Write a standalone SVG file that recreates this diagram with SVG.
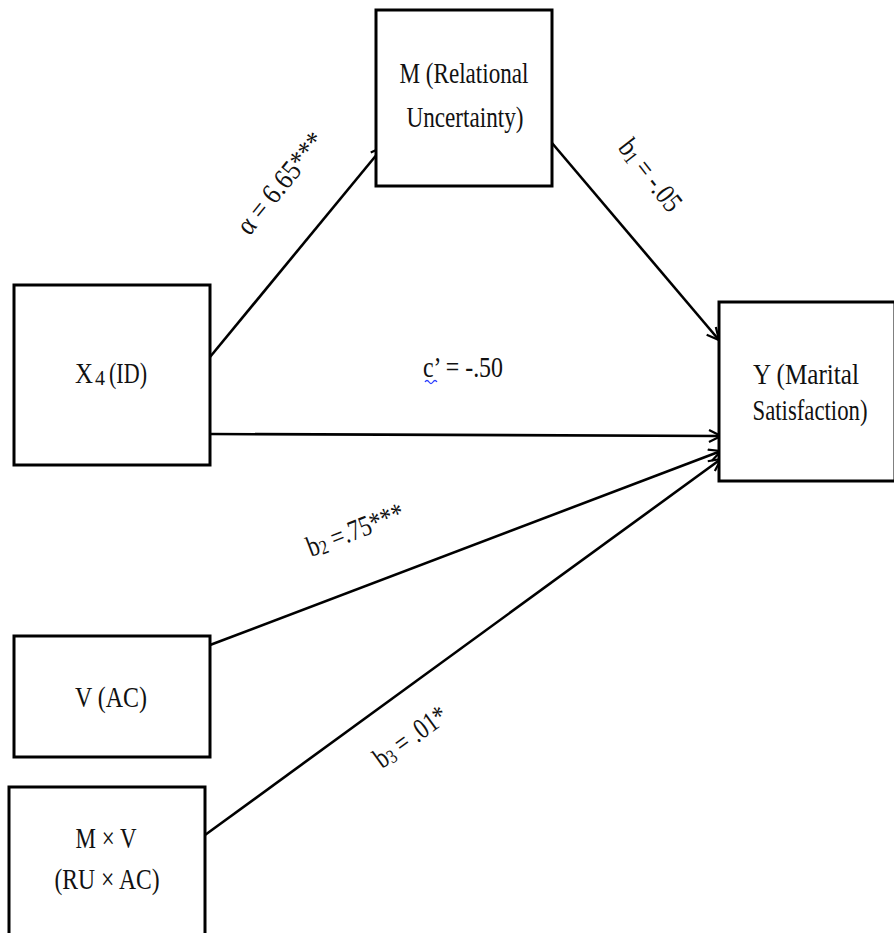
<svg xmlns="http://www.w3.org/2000/svg" width="894" height="933" viewBox="0 0 894 933">
<style>
.box{fill:#fff;stroke:#000;stroke-width:3}
.t{font-family:"Liberation Serif","Times New Roman",serif;font-size:29px;fill:#111}
.c{text-anchor:middle}
.edge{stroke:#000;stroke-width:2.6;fill:none;marker-end:url(#arr)}
</style>
<defs>
<marker id="arr" viewBox="0 0 14 14" refX="13" refY="7" markerWidth="14" markerHeight="14" markerUnits="userSpaceOnUse" orient="auto">
<path d="M1,1 L13,7 L1,13" fill="none" stroke="#000" stroke-width="2.2"/>
</marker>
</defs>
<rect width="894" height="933" fill="#fff"/>
<g id="connectors">
<line class="edge" x1="210" y1="357" x2="383" y2="147"/>
<line class="edge" x1="552" y1="143" x2="719" y2="340"/>
<line class="edge" x1="210" y1="434" x2="721" y2="436"/>
<line class="edge" x1="210" y1="645" x2="721" y2="451"/>
<line class="edge" x1="205" y1="835" x2="721" y2="459"/>
</g>
<g id="node-M">
<rect class="box" x="376" y="10" width="176" height="176"/>
<text class="t c" x="464" y="83" textLength="129" lengthAdjust="spacingAndGlyphs">M (Relational</text>
<text class="t c" x="465" y="127" textLength="117" lengthAdjust="spacingAndGlyphs">Uncertainty)</text>
</g>
<g id="node-X4">
<rect class="box" x="14" y="285" width="196" height="180"/>
<text class="t" x="75" y="383" textLength="18" lengthAdjust="spacingAndGlyphs">X</text>
<text class="t" x="95" y="385" style="font-size:20px">4</text>
<text class="t" x="109" y="383" textLength="38" lengthAdjust="spacingAndGlyphs">(ID)</text>
</g>
<g id="node-Y">
<rect class="box" x="719" y="302" width="176" height="179"/>
<text class="t c" x="806" y="384" textLength="106" lengthAdjust="spacingAndGlyphs">Y (Marital</text>
<text class="t c" x="810" y="420" textLength="115" lengthAdjust="spacingAndGlyphs">Satisfaction)</text>
</g>
<g id="node-V">
<rect class="box" x="14" y="636" width="196" height="121"/>
<text class="t c" x="111" y="707" textLength="72" lengthAdjust="spacingAndGlyphs">V (AC)</text>
</g>
<g id="node-MxV">
<rect class="box" x="9" y="787" width="196" height="160"/>
<text class="t c" x="106" y="848" textLength="61" lengthAdjust="spacingAndGlyphs">M × V</text>
<text class="t c" x="107" y="889" textLength="105" lengthAdjust="spacingAndGlyphs">(RU × AC)</text>
</g>
<g id="labels">
<text class="t c" transform="translate(288,189) rotate(-51)" textLength="122" lengthAdjust="spacingAndGlyphs">α = 6.65***</text>
<text class="t c" transform="translate(643,181) rotate(52)" textLength="84" lengthAdjust="spacingAndGlyphs">b<tspan font-size="20" dy="2">1</tspan><tspan dy="-2"> = -.05</tspan></text>
<text class="t" x="423" y="377" textLength="80" lengthAdjust="spacingAndGlyphs">c’ = -.50</text>
<path d="M425,382 q2,-3 4,0 t4,0 t4,0" fill="none" stroke="#2a3cff" stroke-width="1.3"/>
<text class="t" transform="translate(311,557) rotate(-21)" textLength="102" lengthAdjust="spacingAndGlyphs">b<tspan font-size="20" dy="2">2</tspan><tspan dy="-2"> =.75***</tspan></text>
<text class="t" transform="translate(382,769) rotate(-36)" textLength="84" lengthAdjust="spacingAndGlyphs">b<tspan font-size="20" dy="2">3</tspan><tspan dy="-2"> = .01*</tspan></text>
</g>
</svg>
